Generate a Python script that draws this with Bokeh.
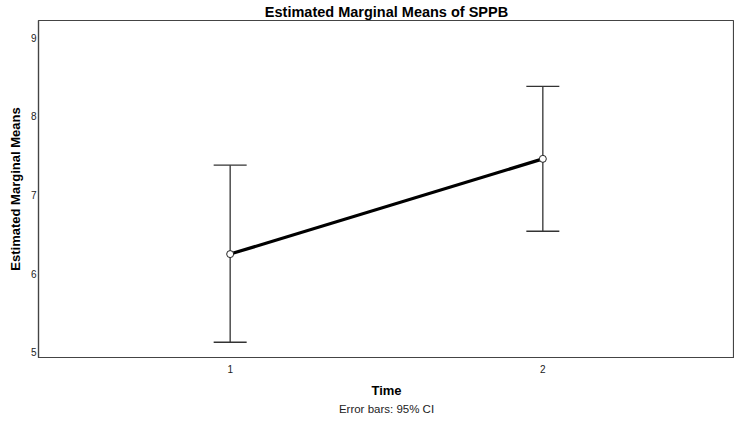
from bokeh.plotting import figure
from bokeh.models import Range1d, FixedTicker, Whisker, ColumnDataSource, Title, TeeHead
from bokeh.embed import file_html
from bokeh.resources import INLINE

# data
time = [1, 2]
means = [6.25, 7.46]
ci_lower = [5.13, 6.54]
ci_upper = [7.38, 8.38]
y_ticks = [5, 6, 7, 8, 9]
x_ticks = [1, 2]

src = ColumnDataSource(dict(time=time, mean=means, lower=ci_lower, upper=ci_upper))

FONT = "Liberation Sans"

p = figure(width=734, height=414, output_backend="svg", toolbar_location=None,
           x_range=Range1d(0.387, 2.613), y_range=Range1d(4.936, 9.218),
           min_border_left=38, min_border_right=0, min_border_top=0, min_border_bottom=0)

p.title.text = "Estimated Marginal Means of SPPB"
p.title.align = "center"
p.title.text_font = FONT
p.title.text_font_size = "14.5px"
p.title.text_font_style = "bold"
p.title.text_color = "#000000"
p.title.standoff = 2
p.title.offset = 0

p.xgrid.visible = False
p.ygrid.visible = False
p.outline_line_color = "#444444"
p.outline_line_width = 1.2
p.background_fill_color = "white"
p.border_fill_color = "white"

for ax in (p.xaxis[0], p.yaxis[0]):
    ax.major_tick_line_color = None
    ax.minor_tick_line_color = None
    ax.major_tick_out = 0
    ax.major_tick_in = 0
    ax.axis_line_color = "#444444"
    ax.axis_line_width = 1.2
    ax.major_label_text_font = FONT
    ax.major_label_text_font_size = "10px"
    ax.major_label_text_color = "#222222"
    ax.axis_label_text_font = FONT
    ax.axis_label_text_font_style = "bold"
    ax.axis_label_text_font_size = "13px"
    ax.axis_label_text_color = "#000000"

p.xaxis.ticker = FixedTicker(ticks=x_ticks)
p.yaxis.ticker = FixedTicker(ticks=y_ticks)
p.xaxis.axis_label = "Time"
p.yaxis.axis_label = "Estimated Marginal Means"
p.xaxis.major_label_standoff = 7
p.xaxis.axis_label_standoff = 7
p.yaxis.major_label_standoff = 2
p.yaxis.axis_label_standoff = 5

cap = Title(text="Error bars: 95% CI", align="center", text_font=FONT,
            text_font_size="11.5px", text_font_style="normal", text_color="#222222",
            standoff=0)
p.add_layout(cap, "below")

w = Whisker(source=src, base="time", lower="lower", upper="upper",
            line_color="#333333", line_width=1.3,
            upper_head=TeeHead(size=33, line_color="#333333", line_width=1.3),
            lower_head=TeeHead(size=33, line_color="#333333", line_width=1.3))
p.add_layout(w)

p.line("time", "mean", source=src, line_color="black", line_width=3.2)
p.scatter("time", "mean", source=src, size=7, marker="circle",
          line_color="#222222", fill_color="white", line_width=1)

open("out.html", "w").write(file_html(p, INLINE))
